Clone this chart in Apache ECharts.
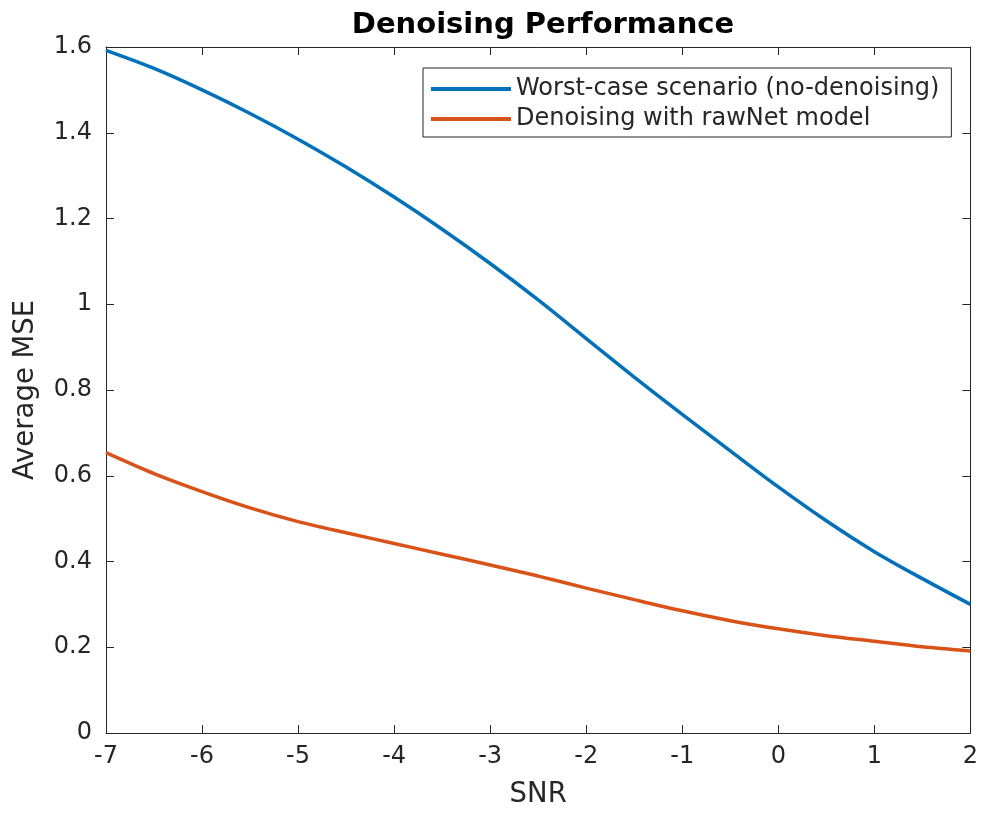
<!DOCTYPE html>
<html>
<head>
<meta charset="utf-8">
<script src="https://cdn.jsdelivr.net/npm/echarts@6/dist/echarts.min.js"></script>
<style>html,body{margin:0;padding:0;background:#fff;}#c{width:981px;height:814px;}</style>
</head>
<body>
<div id="c"></div>
<script>
const snr = [-7, -6.5, -6, -5.5, -5, -4.5, -4, -3.5, -3, -2.5, -2, -1.5, -1, -0.5, 0, 0.5, 1, 1.5, 2];
const worstCase = [1.592, 1.55, 1.50, 1.445, 1.385, 1.32, 1.25, 1.175, 1.095, 1.01, 0.92, 0.83, 0.743, 0.658, 0.574, 0.495, 0.423, 0.36, 0.30];
const rawNet = [0.654, 0.605, 0.563, 0.525, 0.493, 0.467, 0.442, 0.417, 0.392, 0.366, 0.338, 0.311, 0.285, 0.262, 0.243, 0.227, 0.214, 0.201, 0.191];
const xTicks = [-7, -6, -5, -4, -3, -2, -1, 0, 1, 2];
const yTicks = [0, 0.2, 0.4, 0.6, 0.8, 1, 1.2, 1.4, 1.6];
const seriesNames = ['Worst-case scenario (no-denoising)', 'Denoising with rawNet model'];

const FONT = 'DejaVu Sans';
const AX = '#262626';
const chart = echarts.init(document.getElementById('c'));
const axisCommon = {
  axisLine: { show: true, onZero: false, lineStyle: { color: AX, width: 1 } },
  axisTick: { show: true, inside: true, length: 8, lineStyle: { color: AX } },
  splitLine: { show: false }
};
chart.setOption({
  animation: false,
  backgroundColor: '#fff',
  title: {
    text: 'Denoising Performance', left: 538, top: 6, textAlign: 'center',
    textStyle: { fontFamily: FONT, fontWeight: 'bold', fontSize: 29, color: '#000' }
  },
  legend: {
    orient: 'vertical', left: 423, top: 68,
    data: seriesNames,
    icon: 'rect', itemWidth: 80, itemHeight: 4, itemGap: 6,
    padding: [9, 12, 6, 8],
    borderColor: AX, borderWidth: 1, backgroundColor: '#fff',
    textStyle: { fontFamily: FONT, fontSize: 24, color: '#262626' }
  },
  grid: { left: 106, right: 8, top: 47, bottom: 81, containLabel: false },
  xAxis: [
    Object.assign({}, axisCommon, {
      type: 'value', min: -7, max: 2, interval: 1, position: 'bottom',
      name: 'SNR', nameLocation: 'middle', nameGap: 48,
      nameTextStyle: { fontFamily: FONT, fontSize: 27.5, color: '#262626' },
      axisLabel: { fontFamily: FONT, fontSize: 24, color: '#262626', margin: 12,
        formatter: v => xTicks.includes(v) ? String(v) : '' }
    }),
    Object.assign({}, axisCommon, {
      type: 'value', min: -7, max: 2, interval: 1, position: 'top',
      axisLabel: { show: false }
    })
  ],
  yAxis: [
    Object.assign({}, axisCommon, {
      type: 'value', min: 0, max: 1.6, interval: 0.2, position: 'left',
      name: 'Average MSE', nameLocation: 'middle', nameGap: 66, nameRotate: 90,
      nameTextStyle: { fontFamily: FONT, fontSize: 27.5, color: '#262626' },
      axisLabel: { fontFamily: FONT, fontSize: 24, color: '#262626', margin: 14,
        formatter: v => { const t = yTicks.find(y => Math.abs(y - v) < 1e-9); return t === undefined ? '' : String(t); } }
    }),
    Object.assign({}, axisCommon, {
      type: 'value', min: 0, max: 1.6, interval: 0.2, position: 'right',
      axisLabel: { show: false }
    })
  ],
  series: [
    {
      name: seriesNames[0], type: 'line', showSymbol: false, smooth: 0.3,
      data: snr.map((x, i) => [x, worstCase[i]]),
      lineStyle: { color: '#0072BD', width: 3.5 }, itemStyle: { color: '#0072BD' }
    },
    {
      name: seriesNames[1], type: 'line', showSymbol: false, smooth: 0.3,
      data: snr.map((x, i) => [x, rawNet[i]]),
      lineStyle: { color: '#D95319', width: 3.5 }, itemStyle: { color: '#D95319' }
    }
  ]
});
</script>
</body>
</html>
